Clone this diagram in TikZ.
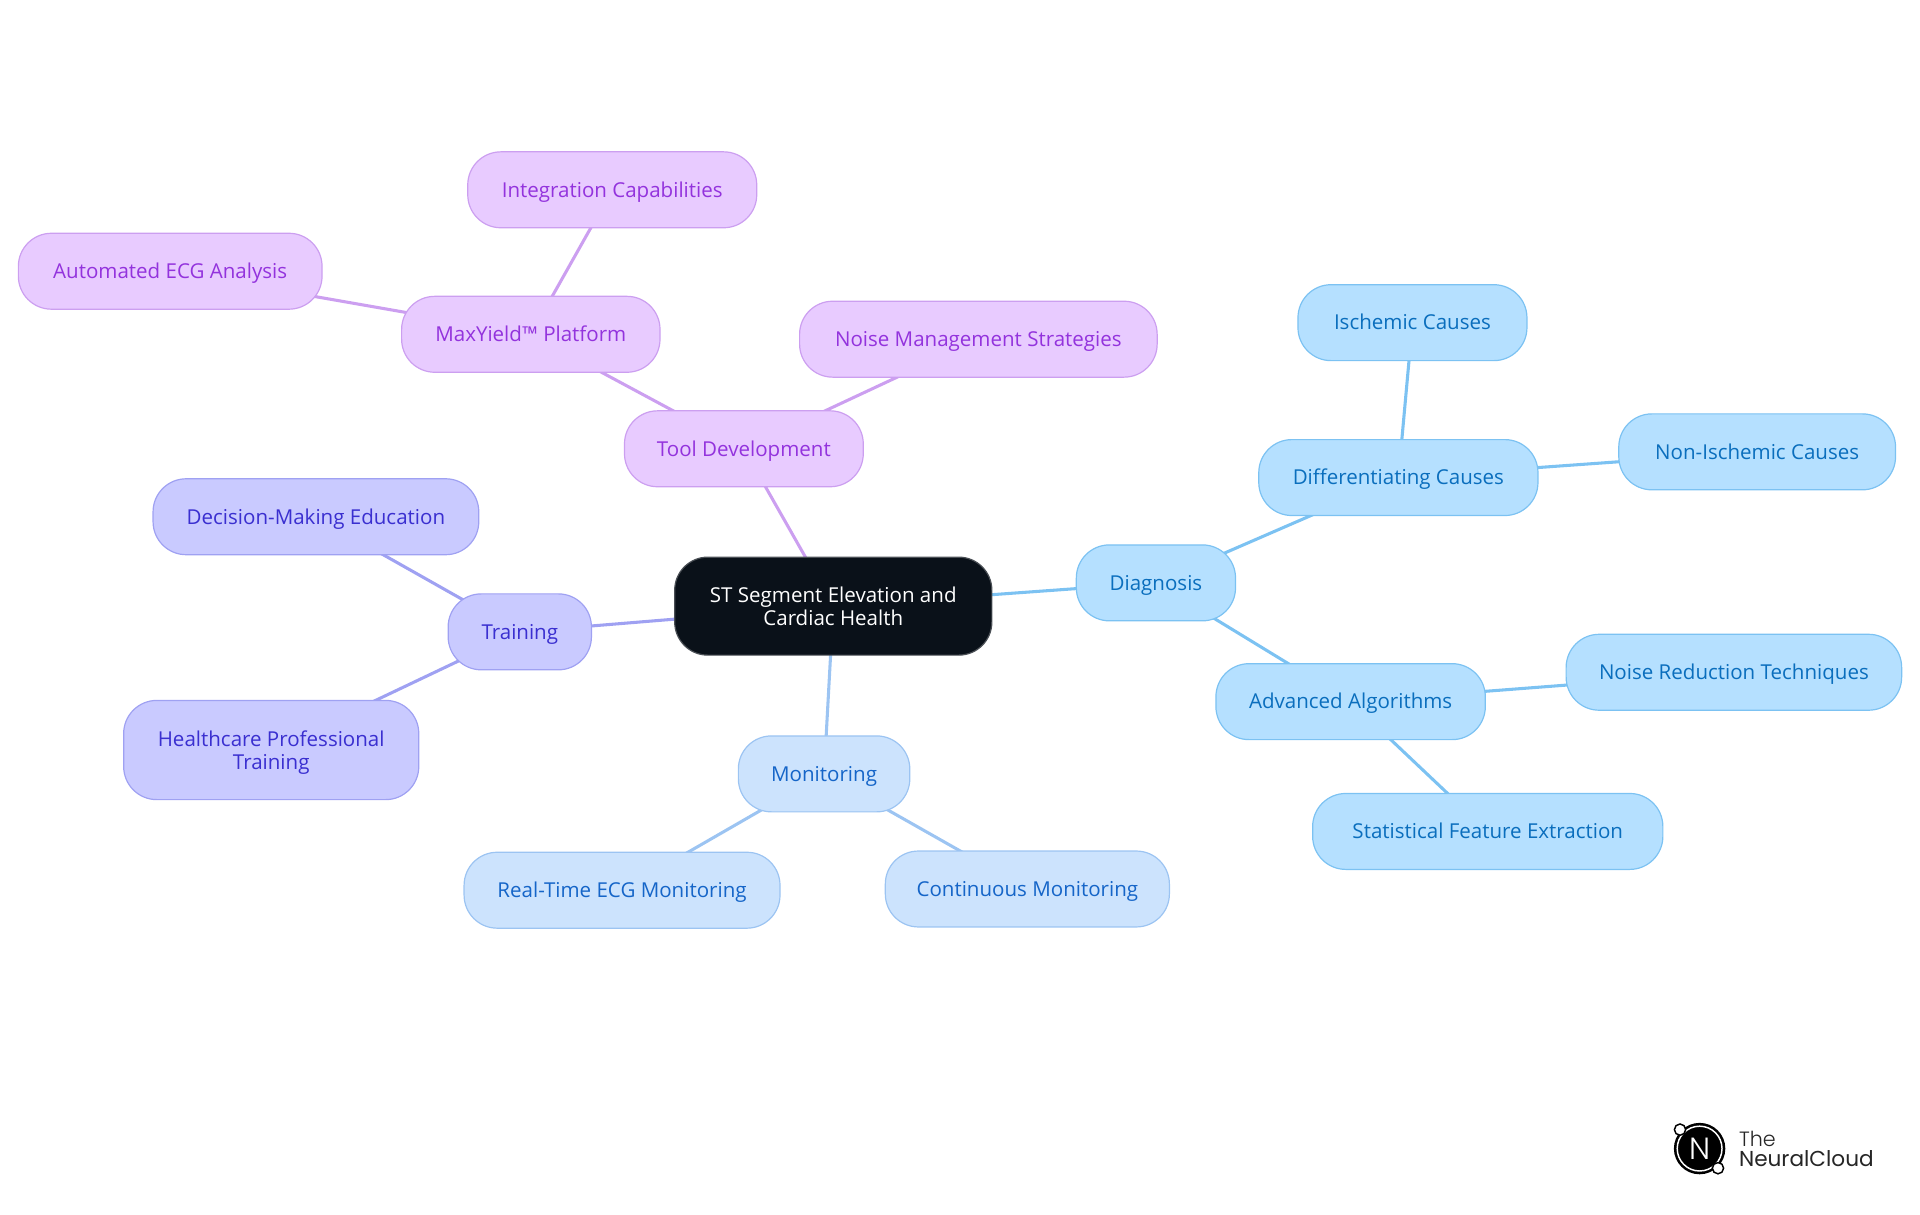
\documentclass[tikz,border=0pt]{standalone}
\usepackage{fontspec}
\setmainfont{Open Sans}
\newfontfamily\logofont{Poppins Light}
\newfontfamily\logoname{Poppins}
\usetikzlibrary{backgrounds}
\newcommand{\unitpx}{0.9184pt}
\definecolor{rootfill}{HTML}{0A1119}
\definecolor{rootline}{HTML}{4A4F55}
\definecolor{diagfill}{HTML}{B5E0FF}
\definecolor{diagline}{HTML}{7CC2F2}
\definecolor{diagtext}{HTML}{0A6EBD}
\definecolor{monifill}{HTML}{CCE3FD}
\definecolor{moniline}{HTML}{9CC4F2}
\definecolor{monitext}{HTML}{1565C8}
\definecolor{trainfill}{HTML}{C9CAFF}
\definecolor{trainline}{HTML}{9FA1F2}
\definecolor{traintext}{HTML}{3A2FD0}
\definecolor{toolfill}{HTML}{E8CBFF}
\definecolor{toolline}{HTML}{CC9FF0}
\definecolor{tooltext}{HTML}{9333DD}
\tikzset{
	mapbox/.style={rounded corners=27*\unitpx, line width=0.9pt, align=center, inner sep=0pt, font=\fontsize{15.4}{17.4}\selectfont},
	onerow/.style={text height=12.6pt, text depth=1.6pt},
	rootbox/.style={mapbox, draw=rootline, fill=rootfill, text=white},
	diagbox/.style={mapbox, onerow, draw=diagline, fill=diagfill, text=diagtext},
	monibox/.style={mapbox, onerow, draw=moniline, fill=monifill, text=monitext},
	trainbox/.style={mapbox, draw=trainline, fill=trainfill, text=traintext},
	toolbox/.style={mapbox, onerow, draw=toolline, fill=toolfill, text=tooltext},
	maplink/.style={line width=2.3pt}
}
\begin{document}
\begin{tikzpicture}[x=\unitpx, y=-\unitpx]
		
		\useasboundingbox (0,0) rectangle (1568,992.2);
		
		%Centre
		\node[rootbox, minimum width=259*\unitpx, minimum height=80*\unitpx] (Root) at (680.5,495) {ST Segment Elevation and\\Cardiac Health};
		
		%Diagnosis branch
		\node[diagbox, minimum width=130*\unitpx, minimum height=62*\unitpx] (Diagnosis) at (944,476) {Diagnosis};
		\node[diagbox, minimum width=228*\unitpx, minimum height=62*\unitpx] (Causes) at (1142,390) {Differentiating Causes};
		\node[diagbox, minimum width=187*\unitpx, minimum height=62*\unitpx] (Ischemic) at (1153.5,263.5) {Ischemic Causes};
		\node[diagbox, minimum width=226*\unitpx, minimum height=62*\unitpx] (NonIschemic) at (1435,369) {Non-Ischemic Causes};
		\node[diagbox, minimum width=220*\unitpx, minimum height=62*\unitpx] (Algorithms) at (1103,573) {Advanced Algorithms};
		\node[diagbox, minimum width=274*\unitpx, minimum height=62*\unitpx] (NoiseRed) at (1416,549) {Noise Reduction Techniques};
		\node[diagbox, minimum width=286*\unitpx, minimum height=62*\unitpx] (Features) at (1215,679) {Statistical Feature Extraction};
		
		%Monitoring branch
		\node[monibox, minimum width=140*\unitpx, minimum height=62*\unitpx] (Monitoring) at (673,632) {Monitoring};
		\node[monibox, minimum width=258*\unitpx, minimum height=62*\unitpx] (RealTime) at (508,727) {Real-Time ECG Monitoring};
		\node[monibox, minimum width=232*\unitpx, minimum height=62*\unitpx] (Continuous) at (839,726) {Continuous Monitoring};
		
		%Training branch
		\node[trainbox, onerow, minimum width=117*\unitpx, minimum height=62*\unitpx] (Training) at (424.5,516) {Training};
		\node[trainbox, onerow, minimum width=266*\unitpx, minimum height=62*\unitpx] (Decision) at (258,422) {Decision-Making Education};
		\node[trainbox, text depth=0pt, minimum width=241*\unitpx, minimum height=81*\unitpx] (Healthcare) at (221.5,612.5) {Healthcare Professional\\Training};
		
		%Tool development branch
		\node[toolbox, minimum width=195*\unitpx, minimum height=62*\unitpx] (ToolDev) at (607.5,366.5) {Tool Development};
		\node[toolbox, minimum width=292*\unitpx, minimum height=62*\unitpx] (NoiseMgmt) at (799,277) {Noise Management Strategies};
		\node[toolbox, minimum width=211*\unitpx, minimum height=62*\unitpx] (MaxYield) at (433.5,273) {MaxYield™ Platform};
		\node[toolbox, minimum width=236*\unitpx, minimum height=62*\unitpx] (Integration) at (500,155) {Integration Capabilities};
		\node[toolbox, minimum width=248*\unitpx, minimum height=62*\unitpx] (Automated) at (139,221.5) {Automated ECG Analysis};
		
		%Links behind the boxes
		\begin{scope}[on background layer]
		\draw[maplink, draw=diagline] (Root.center) -- (Diagnosis.center);
		\draw[maplink, draw=diagline] (Diagnosis.center) -- (Causes.center);
		\draw[maplink, draw=diagline] (Causes.center) -- (Ischemic.center);
		\draw[maplink, draw=diagline] (Causes.center) -- (NonIschemic.center);
		\draw[maplink, draw=diagline] (Diagnosis.center) -- (Algorithms.center);
		\draw[maplink, draw=diagline] (Algorithms.center) -- (NoiseRed.center);
		\draw[maplink, draw=diagline] (Algorithms.center) -- (Features.center);
		\draw[maplink, draw=moniline] (Root.center) -- (Monitoring.center);
		\draw[maplink, draw=moniline] (Monitoring.center) -- (RealTime.center);
		\draw[maplink, draw=moniline] (Monitoring.center) -- (Continuous.center);
		\draw[maplink, draw=trainline] (Root.center) -- (Training.center);
		\draw[maplink, draw=trainline] (Training.center) -- (Decision.center);
		\draw[maplink, draw=trainline] (Training.center) -- (Healthcare.center);
		\draw[maplink, draw=toolline] (Root.center) -- (ToolDev.center);
		\draw[maplink, draw=toolline] (ToolDev.center) -- (NoiseMgmt.center);
		\draw[maplink, draw=toolline] (ToolDev.center) -- (MaxYield.center);
		\draw[maplink, draw=toolline] (MaxYield.center) -- (Integration.center);
		\draw[maplink, draw=toolline] (MaxYield.center) -- (Automated.center);
		\end{scope}
		
		%Logo
		\fill[black] (1388,938) circle (21);
		\draw[white, line width=1.1pt] (1388,938) circle (18.3);
		\draw[black, fill=white, line width=1.1pt] (1372,922.5) circle (4.6);
		\draw[black, fill=white, line width=1.1pt] (1403,954) circle (4.6);
		\node[text=white, font=\logofont\fontsize{23}{23}\selectfont, inner sep=0pt] (LogoN) at (1388,938) {N};
		\node[anchor=base west, inner sep=0pt, text=black!85, font=\logofont\fontsize{15.5}{15.5}\selectfont] (LogoThe) at (1420,936) {The};
		\node[anchor=base west, inner sep=0pt, text=black!85, font=\logoname\fontsize{16.2}{16.2}\selectfont] (LogoName) at (1420,952.5) {NeuralCloud};
		
		\end{tikzpicture}
\end{document}
